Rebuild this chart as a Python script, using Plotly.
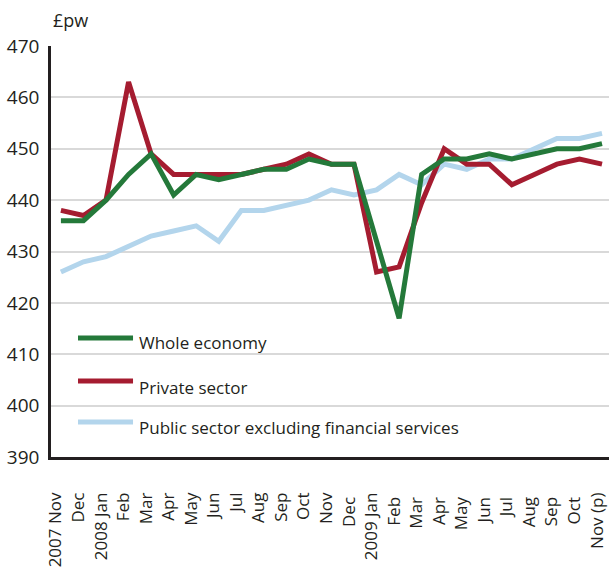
import plotly.graph_objects as go

months = ["2007 Nov", "Dec", "2008 Jan", "Feb", "Mar", "Apr", "May", "Jun", "Jul", "Aug",
          "Sep", "Oct", "Nov", "Dec ", "2009 Jan", "Feb ", "Mar ", "Apr ", "May ", "Jun ",
          "Jul ", "Aug ", "Sep ", "Oct ", "Nov (p)"]

whole_economy = [436, 436, 440, 445, 449, 441, 445, 444, 445, 446, 446, 448, 447, 447,
                 432, 417, 445, 448, 448, 449, 448, 449, 450, 450, 451]
private_sector = [438, 437, 440, 463, 449, 445, 445, 445, 445, 446, 447, 449, 447, 447,
                  426, 427, 439.5, 450, 447, 447, 443, 445, 447, 448, 447]
public_sector = [426, 428, 429, 431, 433, 434, 435, 432, 438, 438, 439, 440, 442, 441,
                 442, 445, 443, 447, 446, 448, 448, 450, 452, 452, 453]

series_names = ["Whole economy", "Private sector", "Public sector excluding financial services"]
colors = {"Whole economy": "#24793a", "Private sector": "#a51c30",
          "Public sector excluding financial services": "#b3d5ec"}

x_idx = list(range(len(months)))
FONT = "Open Sans"

fig = go.Figure()
for name, vals in [("Public sector excluding financial services", public_sector),
                   ("Private sector", private_sector),
                   ("Whole economy", whole_economy)]:
    fig.add_trace(go.Scatter(x=x_idx, y=vals, mode="lines", name=name,
                             line=dict(color=colors[name], width=5), showlegend=False))

# manual legend
leg_line_y = [0.2895, 0.1849, 0.0852]
leg_text_y = [0.2786, 0.170, 0.0706]
for name, ly, ty in zip(series_names, leg_line_y, leg_text_y):
    fig.add_shape(type="line", xref="paper", yref="paper", x0=0.0484, x1=0.147, y0=ly, y1=ly,
                  line=dict(color=colors[name], width=5))
    fig.add_annotation(xref="paper", yref="paper", x=0.154, y=ty, text=name, showarrow=False,
                       xanchor="left", yanchor="middle",
                       font=dict(family=FONT, size=17, color="#231f20"))

fig.add_annotation(xref="paper", yref="paper", x=0.0, y=1.0, yshift=26, text="£pw",
                   showarrow=False, xanchor="left", yanchor="middle",
                   font=dict(family=FONT, size=18, color="#231f20"))

fig.update_layout(
    width=609, height=568,
    margin=dict(l=51, r=0, t=46, b=111),
    paper_bgcolor="white", plot_bgcolor="white",
    font=dict(family=FONT, color="#231f20"),
)
fig.update_xaxes(
    range=[-0.44, 24.31], tickmode="array", tickvals=x_idx, ticktext=months,
    tickangle=-90, tickfont=dict(family=FONT, size=17, color="#231f20"),
    showgrid=False, zeroline=False, showline=True, linecolor="#231f20", linewidth=2.5,
    ticks="", ticklabelstandoff=26, ticklabelshift=-5, ticklabeloverflow="allow",
)
fig.update_yaxes(
    range=[390, 470], dtick=10, tickfont=dict(family=FONT, size=19, color="#231f20"),
    showgrid=True, gridcolor="#d9d9d9", gridwidth=1.5, zeroline=False,
    showline=True, linecolor="#231f20", linewidth=2.5, ticks="", ticklabelstandoff=5,
)

fig.write_html("out.html")
